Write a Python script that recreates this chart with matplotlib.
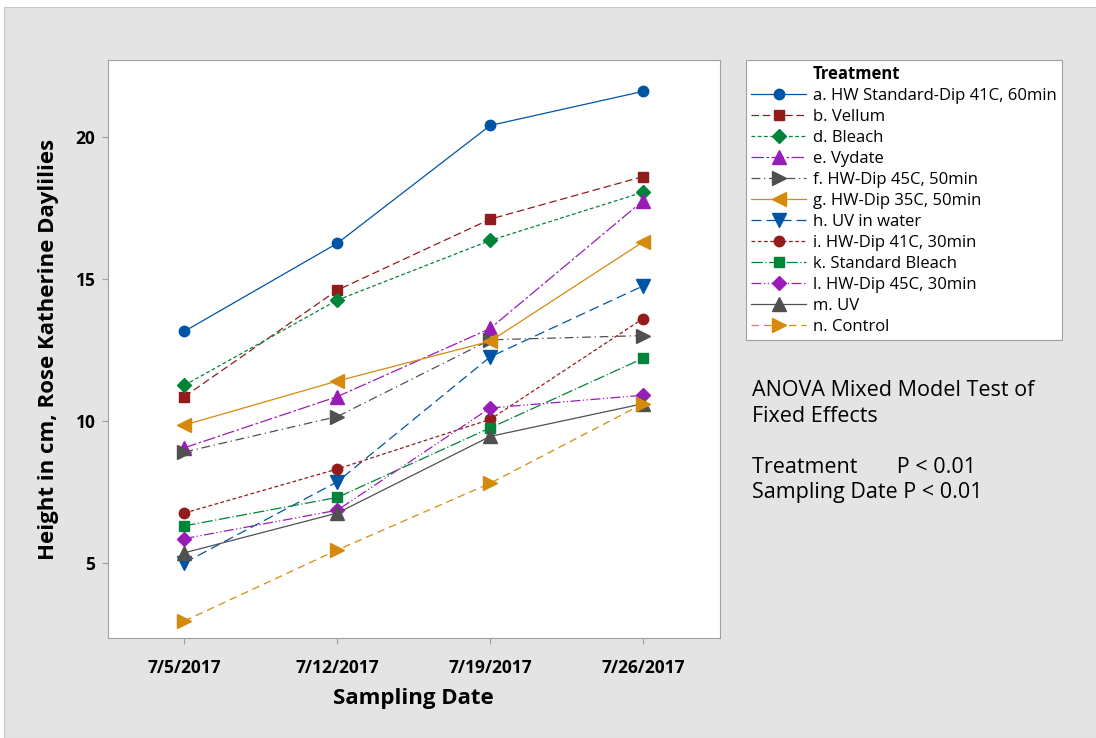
import matplotlib
matplotlib.use('Agg')
import matplotlib.pyplot as plt
from matplotlib.patches import Rectangle
from matplotlib.lines import Line2D

plt.rcParams['font.family'] = ['Open Sans', 'DejaVu Sans']

dates = ['7/5/2017', '7/12/2017', '7/19/2017', '7/26/2017']

labels = ['a. HW Standard-Dip 41C, 60min', 'b. Vellum', 'd. Bleach', 'e. Vydate',
          'f. HW-Dip 45C, 50min', 'g. HW-Dip 35C, 50min', 'h. UV in water',
          'i. HW-Dip 41C, 30min', 'k. Standard Bleach', 'l. HW-Dip 45C, 30min',
          'm. UV', 'n. Control']

a_vals = [13.15, 16.25, 20.4, 21.6]
b_vals = [10.85, 14.6, 17.1, 18.6]
d_vals = [11.25, 14.25, 16.35, 18.05]
e_vals = [9.05, 10.85, 13.25, 17.75]
f_vals = [8.9, 10.15, 12.85, 13.0]
g_vals = [9.85, 11.4, 12.8, 16.3]
h_vals = [5.0, 7.85, 12.25, 14.75]
i_vals = [6.75, 8.3, 10.05, 13.6]
k_vals = [6.3, 7.3, 9.75, 12.2]
l_vals = [5.85, 6.85, 10.45, 10.9]
m_vals = [5.35, 6.75, 9.45, 10.6]
n_vals = [2.95, 5.45, 7.8, 10.6]

series = [a_vals, b_vals, d_vals, e_vals, f_vals, g_vals,
          h_vals, i_vals, k_vals, l_vals, m_vals, n_vals]

blue = '#0054A6'
red = '#941B1B'
green = '#00843A'
purple = '#9A1CB8'
gray = '#505050'
orange = '#D68A0C'

styles = [
    (blue, 'o', '-', 7.5),
    (red, 's', (0, (6, 3)), 7.5),
    (green, 'D', (0, (3, 2)), 7),
    (purple, '^', (0, (10, 2, 2, 2)), 10.5),
    (gray, '>', (0, (7, 3, 1, 3)), 10.5),
    (orange, '<', '-', 10.5),
    (blue, 'v', (0, (8, 4)), 10.5),
    (red, 'o', (0, (3, 2)), 7.5),
    (green, 's', (0, (9, 2, 1, 2)), 7.5),
    (purple, 'D', (0, (8, 2, 1, 2, 1, 2)), 7),
    (gray, '^', '-', 10.5),
    (orange, '>', (0, (6, 4)), 10.5),
]

fig = plt.figure(figsize=(10.96, 7.38), dpi=100, facecolor='white')
fig.patches.append(Rectangle((4 / 1096, 0), 1, 1 - 7 / 738, transform=fig.transFigure,
                             facecolor='#e4e4e4', edgecolor='#c8c8c8', lw=0.8, zorder=-10))

ax = fig.add_axes([0.0985, 0.1355, 0.558, 0.783])
ax.set_facecolor('white')
x = list(range(len(dates)))
handles = [Line2D([], [], linestyle='none')]
for vals, lab, (c, mk, ls, ms) in zip(series, labels, styles):
    ln, = ax.plot(x, vals, color=c, marker=mk, linestyle=ls, markersize=ms,
                  linewidth=0.9, label=lab)
    handles.append(ln)

ax.set_xlim(-0.5, 3.5)
ax.set_ylim(2.35, 22.7)
ax.set_yticks([5, 10, 15, 20])
ax.set_xticks(x)
ax.set_xticklabels(dates)
for t in ax.get_xticklabels() + ax.get_yticklabels():
    t.set_fontweight('bold')
    t.set_fontsize(12.5)
ax.set_xlabel('Sampling Date', fontsize=16, fontweight='bold', labelpad=8)
ax.set_ylabel('Height in cm, Rose Katherine Daylilies', fontsize=16, fontweight='bold',
              labelpad=12)
for s in ax.spines.values():
    s.set_color('#a0a0a0')
ax.tick_params(colors='#a0a0a0', labelcolor='black', length=4)
ax.tick_params(axis='x', pad=11)
ax.tick_params(axis='y', pad=5)

leg = fig.legend(handles, ['Treatment'] + labels, loc='upper left',
                 bbox_to_anchor=(0.681, 0.919), borderaxespad=0,
                 fontsize=12, frameon=True, fancybox=False, framealpha=1,
                 handlelength=3.3, labelspacing=0.3, borderpad=0.3, handletextpad=0.4)
leg.get_frame().set_edgecolor('#a0a0a0')
leg.get_frame().set_linewidth(0.8)
leg.get_texts()[0].set_fontweight('bold')

fig.text(0.686, 0.485, 'ANOVA Mixed Model Test of\nFixed Effects\n\nTreatment       P < 0.01\nSampling Date P < 0.01',
         fontsize=15.5, va='top', ha='left', linespacing=1.28)

fig.savefig('out.png', dpi=100, facecolor=fig.get_facecolor())
